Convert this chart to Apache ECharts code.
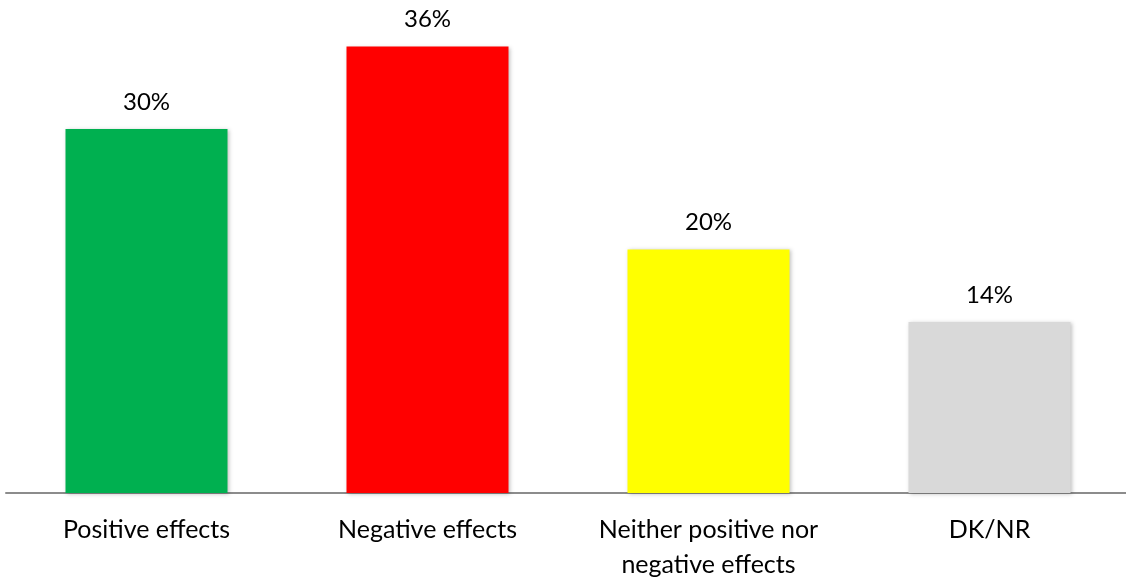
<!DOCTYPE html>
<html><head><meta charset="utf-8">
<script src="https://cdn.jsdelivr.net/npm/echarts@6/dist/echarts.min.js"></script>
<style>html,body{margin:0;padding:0;background:#fff}#c{width:1126px;height:583px}</style>
</head><body><div id="c"></div>
<script>
const categories = ['Positive effects', 'Negative effects', 'Neither positive nor\nnegative effects', 'DK/NR'];
const values = [29.6, 36.3, 19.8, 13.9];
const labels = ['30%', '36%', '20%', '14%'];
const colors = ['#00B050', '#FF0000', '#FFFF00', '#D9D9D9'];

const chart = echarts.init(document.getElementById('c'));
chart.setOption({
  animation: false,
  grid: { left: 6, top: 1, width: 1124, height: 492, containLabel: false, outerBoundsMode: 'none' },
  xAxis: {
    type: 'category', data: categories,
    axisLine: { lineStyle: { color: '#8c8c8c', width: 2 } },
    axisTick: { show: false },
    axisLabel: { color: '#000', fontFamily: 'Lato, "Open Sans", sans-serif', fontSize: 25, margin: 19, lineHeight: 35, interval: 0 }
  },
  yAxis: { type: 'value', min: 0, max: 40, show: false, splitLine: { show: false } },
  series: [{
    type: 'bar', barWidth: 162,
    data: values.map((v, i) => ({ value: v, itemStyle: { color: colors[i] } })),
    itemStyle: { shadowBlur: 4, shadowColor: 'rgba(0,0,0,0.25)', shadowOffsetX: 1, shadowOffsetY: 1 },
    label: {
      show: true, position: 'top', distance: 15,
      formatter: p => labels[p.dataIndex],
      color: '#000', fontFamily: 'Lato, "Open Sans", sans-serif', fontSize: 24
    }
  }]
});
</script></body></html>
